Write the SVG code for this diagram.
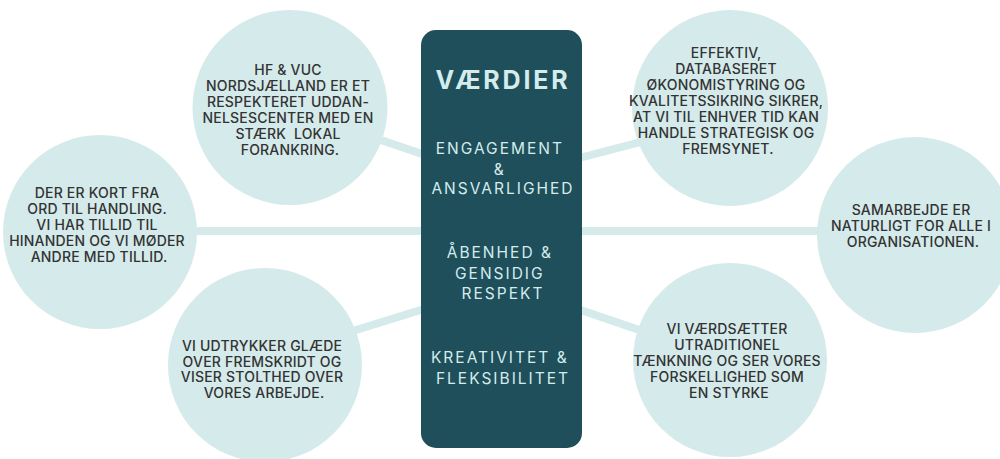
<svg xmlns="http://www.w3.org/2000/svg" width="1000" height="459" viewBox="0 0 1000 459">
  <style>
    .conn { stroke: #d5eaea; stroke-width: 8; fill: none; }
    .bubble { fill: #d5eaea; }
    .bt { font-family: Inter, "Liberation Sans", sans-serif; font-size: 14px; font-weight: 500; fill: #333333; text-anchor: middle; letter-spacing: 0.2px; }
    .box { fill: #1e4f5b; }
    .title { font-family: Inter, "Liberation Sans", sans-serif; font-size: 25px; font-weight: 700; fill: #d5ecec; text-anchor: middle; letter-spacing: 2.8px; }
    .val { font-family: Inter, "Liberation Sans", sans-serif; font-size: 15.5px; font-weight: 400; fill: #d5ecec; text-anchor: middle; letter-spacing: 2px; }
  </style>
  <rect width="1000" height="459" fill="#ffffff"/>
  <g id="connectors">
    <line class="conn" x1="360" y1="133" x2="440" y2="160"/>
    <line class="conn" x1="150" y1="231" x2="440" y2="231"/>
    <line class="conn" x1="340" y1="335" x2="440" y2="304"/>
    <line class="conn" x1="560" y1="163" x2="660" y2="137"/>
    <line class="conn" x1="560" y1="231" x2="860" y2="231"/>
    <line class="conn" x1="560" y1="303" x2="660" y2="337"/>
  </g>
  <g id="node-top-left">
    <circle class="bubble" cx="290" cy="107.5" r="97.5"/>
    <text class="bt">
      <tspan x="290" y="75">HF &amp; VUC</tspan>
      <tspan x="290" y="91">NORDSJÆLLAND ER ET</tspan>
      <tspan x="290" y="107">RESPEKTERET UDDAN-</tspan>
      <tspan x="290" y="123">NELSESCENTER MED EN</tspan>
      <tspan x="290" y="139">STÆRK&#160; LOKAL</tspan>
      <tspan x="290" y="155">FORANKRING.</tspan>
    </text>
  </g>
  <g id="node-left">
    <circle class="bubble" cx="100" cy="232" r="97"/>
    <text class="bt">
      <tspan x="99" y="198">DER ER KORT FRA</tspan>
      <tspan x="99" y="214">ORD TIL HANDLING.</tspan>
      <tspan x="99" y="230">VI HAR TILLID TIL</tspan>
      <tspan x="99" y="246">HINANDEN OG VI MØDER</tspan>
      <tspan x="99" y="262">ANDRE MED TILLID.</tspan>
    </text>
  </g>
  <g id="node-bottom-left">
    <circle class="bubble" cx="265" cy="365" r="97"/>
    <text class="bt">
      <tspan x="264" y="351">VI UDTRYKKER GLÆDE</tspan>
      <tspan x="264" y="367">OVER FREMSKRIDT OG</tspan>
      <tspan x="264" y="382">VISER STOLTHED OVER</tspan>
      <tspan x="264" y="398">VORES ARBEJDE.</tspan>
    </text>
  </g>
  <g id="node-top-right">
    <circle class="bubble" cx="730" cy="108" r="98"/>
    <text class="bt">
      <tspan x="728" y="58">EFFEKTIV,</tspan>
      <tspan x="728" y="74">DATABASERET</tspan>
      <tspan x="728" y="90">ØKONOMISTYRING OG</tspan>
      <tspan x="728" y="106">KVALITETSSIKRING SIKRER,</tspan>
      <tspan x="728" y="122">AT VI TIL ENHVER TID KAN</tspan>
      <tspan x="728" y="138">HANDLE STRATEGISK OG</tspan>
      <tspan x="728" y="154">FREMSYNET.</tspan>
    </text>
  </g>
  <g id="node-right">
    <circle class="bubble" cx="915" cy="235" r="98"/>
    <text class="bt">
      <tspan x="913" y="215">SAMARBEJDE ER</tspan>
      <tspan x="913" y="231">NATURLIGT FOR ALLE I</tspan>
      <tspan x="913" y="247">ORGANISATIONEN.</tspan>
    </text>
  </g>
  <g id="node-bottom-right">
    <circle class="bubble" cx="730" cy="360" r="97"/>
    <text class="bt">
      <tspan x="729" y="334">VI VÆRDSÆTTER</tspan>
      <tspan x="729" y="350">UTRADITIONEL</tspan>
      <tspan x="729" y="366">TÆNKNING OG SER VORES</tspan>
      <tspan x="729" y="382">FORSKELLIGHED SOM</tspan>
      <tspan x="729" y="398">EN STYRKE</tspan>
    </text>
  </g>
  <g id="node-center">
    <rect class="box" x="421" y="30" width="161" height="418" rx="15" ry="15"/>
    <text class="title" x="503" y="89">VÆRDIER</text>
    <text class="val">
      <tspan x="503" y="154">ENGAGEMENT</tspan>
      <tspan x="503" y="175">&amp;</tspan>
      <tspan x="503" y="194">ANSVARLIGHED</tspan>
    </text>
    <text class="val">
      <tspan x="503" y="258">ÅBENHED &amp;</tspan>
      <tspan x="503" y="279">GENSIDIG</tspan>
      <tspan x="503" y="299">RESPEKT</tspan>
    </text>
    <text class="val">
      <tspan x="503" y="363">KREATIVITET &amp;</tspan>
      <tspan x="503" y="384">FLEKSIBILITET</tspan>
    </text>
  </g>
</svg>
